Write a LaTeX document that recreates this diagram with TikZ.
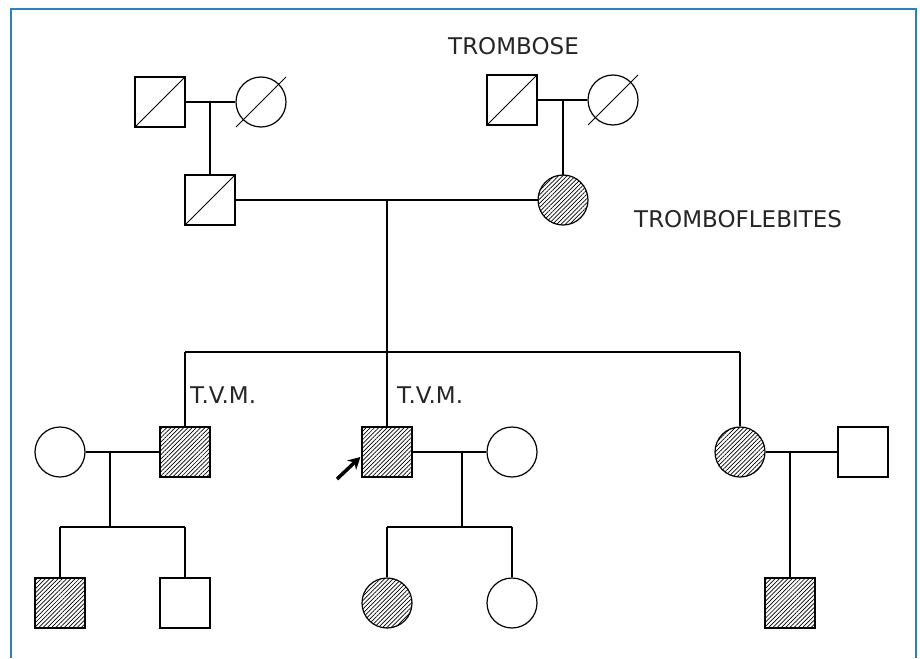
\documentclass[tikz,border=0pt]{standalone}
\usepackage{fontspec}
\setmainfont{DejaVu Sans}
\usetikzlibrary{patterns.meta,arrows.meta,calc}
\definecolor{framec}{RGB}{40,130,190}
\tikzset{
  base/.style={draw=black, line width=1.2pt, inner sep=0pt, minimum size=50pt},
  male/.style={base, rectangle},
  female/.style={base, circle},
  affected/.style={pattern={Lines[angle=45,distance=3pt,line width=0.7pt]}},
  link/.style={line width=1.2pt},
  dec/.style={line width=0.9pt},
  lbl/.style={inner sep=0pt, anchor=base west, font=\fontsize{23}{26}\selectfont, text=black!85},
}
\begin{document}
\begin{tikzpicture}[x=1pt,y=-1pt]
\useasboundingbox (0,0) rectangle (920,658);
\draw[framec, line width=2pt] (11,658) -- (11,9) -- (916,9) -- (916,658);

% generation I
\node[male] (gf1) at (160,102) {};
\node[female] (gm1) at (261,102) {};
\node[male] (gf2) at (512,100) {};
\node[female] (gm2) at (613,100) {};
% generation II
\node[male] (f) at (210,200) {};
\node[female, affected] (m) at (563,200) {};
% generation III
\node[male, affected] (k1) at (185,452) {};
\node[male, affected] (k2) at (387,452) {};
\node[female, affected] (k3) at (740,452) {};
\node[female] (w1) at (60,452) {};
\node[female] (w2) at (512,452) {};
\node[male] (h3) at (863,452) {};
% generation IV
\node[male, affected] (g1) at (60,603) {};
\node[male] (g2) at (185,603) {};
\node[female, affected] (g3) at (387,603) {};
\node[female] (g4) at (512,603) {};
\node[male, affected] (g5) at (790,603) {};

% deceased marks
\draw[dec] (gf1.south west) -- (gf1.north east);
\draw[dec] (gf2.south west) -- (gf2.north east);
\draw[dec] (f.south west) -- (f.north east);
\draw[dec] ($(gm1.center)+(-25,25)$) -- ($(gm1.center)+(25,-25)$);
\draw[dec] ($(gm2.center)+(-25,25)$) -- ($(gm2.center)+(25,-25)$);

% coordinates
\coordinate (m1) at (210,102);
\coordinate (m2) at (563,100);
\coordinate (m3) at (387,200);
\coordinate (s1) at (387,352);
\coordinate (sL) at (185,352);
\coordinate (sR) at (740,352);
\coordinate (m4) at (110,452);
\coordinate (s2) at (110,527);
\coordinate (s2a) at (60,527);
\coordinate (s2b) at (185,527);
\coordinate (m5) at (462,452);
\coordinate (s3) at (462,527);
\coordinate (s3a) at (387,527);
\coordinate (s3b) at (512,527);
\coordinate (m6) at (790,452);

% connectors
\draw[link] (gf1.east) -- (gm1.west);
\draw[link] (m1) -- (f.north);
\draw[link] (gf2.east) -- (gm2.west);
\draw[link] (m2) -- (m.north);
\draw[link] (f.east) -- (m.west);
\draw[link] (m3) -- (s1);
\draw[link] (sL) -- (sR);
\draw[link] (sL) -- (k1.north);
\draw[link] (s1) -- (k2.north);
\draw[link] (sR) -- (k3.north);
\draw[link] (w1.east) -- (k1.west);
\draw[link] (m4) -- (s2);
\draw[link] (s2a) -- (s2b);
\draw[link] (s2a) -- (g1.north);
\draw[link] (s2b) -- (g2.north);
\draw[link] (k2.east) -- (w2.west);
\draw[link] (m5) -- (s3);
\draw[link] (s3a) -- (s3b);
\draw[link] (s3a) -- (g3.north);
\draw[link] (s3b) -- (g4.north);
\draw[link] (k3.east) -- (h3.west);
\draw[link] (m6) -- (g5.north);

% proband arrow
\coordinate (pa) at (337,479);
\draw[line width=3.5pt, -{Stealth[length=12pt,width=13pt]}] (pa) -- ($(k2.west)+(-1,5)$);

% labels
\node[lbl] (t1) at (448,55) {TROMBOSE};
\node[lbl] (t2) at (634,227) {TROMBOFLEBITES};
\node[lbl] (t3) at (190,403) {T.V.M.};
\node[lbl] (t4) at (397,403) {T.V.M.};
\end{tikzpicture}
\end{document}
